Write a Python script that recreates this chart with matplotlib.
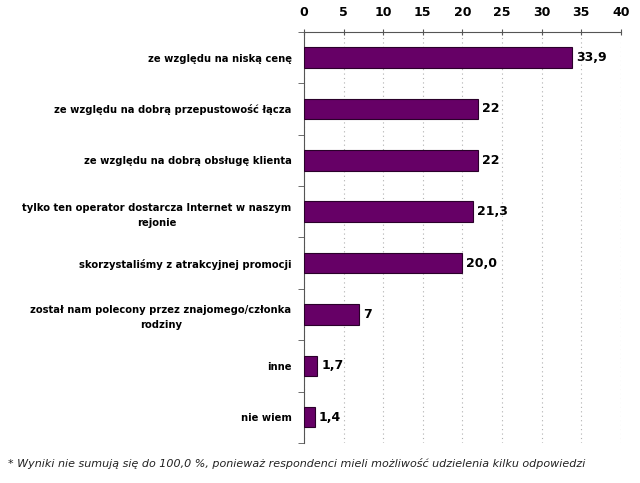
import numpy as np
import matplotlib.pyplot as plt

# dane z wykresu
kategorie = [
    "ze względu na niską cenę",
    "ze względu na dobrą przepustowość łącza",
    "ze względu na dobrą obsługę klienta",
    "tylko ten operator dostarcza Internet w naszym\nrejonie",
    "skorzystaliśmy z atrakcyjnej promocji",
    "został nam polecony przez znajomego/członka\nrodziny",
    "inne",
    "nie wiem",
]
wartosci = [33.9, 22, 22, 21.3, 20.0, 7, 1.7, 1.4]
etykiety = ["33,9", "22", "22", "21,3", "20,0", "7", "1,7", "1,4"]
przypis = "* Wyniki nie sumują się do 100,0 %, ponieważ respondenci mieli możliwość udzielenia kilku odpowiedzi"

fig = plt.figure(figsize=(6.4, 4.83), dpi=100)
ax = fig.add_axes([0.475, 0.083, 0.495, 0.851])

y = np.arange(len(kategorie))
ax.barh(y, wartosci, height=0.4, color="#660066", edgecolor="#2a002a", linewidth=0.8, zorder=3)

for yi, v, t in zip(y, wartosci, etykiety):
    ax.text(v + 0.5, yi, t, va="center", ha="left", fontsize=9, fontweight="bold", color="black")

ax.set_xlim(0, 40)
ax.set_ylim(len(kategorie) - 0.5, -0.5)
ax.xaxis.tick_top()
ax.set_xticks(np.arange(0, 41, 5))
ax.tick_params(axis="x", labelsize=9, length=4, direction="inout", pad=7, colors="#555555", labelcolor="black")
for lab in ax.get_xticklabels():
    lab.set_fontweight("bold")

ax.set_yticks(y)
ax.set_yticklabels(kategorie, fontsize=7.2, fontweight="bold", multialignment="center", linespacing=1.6)
ax.set_yticks(np.arange(-0.5, len(kategorie), 1), minor=True)
ax.tick_params(axis="y", which="major", length=0, pad=9)
ax.tick_params(axis="y", which="minor", length=4, color="#555555")

ax.grid(axis="x", color="#b0b0b0", linestyle=(0, (1, 3)), linewidth=0.8, zorder=0)
for s in ["right", "bottom"]:
    ax.spines[s].set_visible(False)
ax.spines["top"].set_color("#555555")
ax.spines["left"].set_color("#555555")

fig.text(0.012, 0.04, przypis, fontsize=8, style="italic", color="#222222", va="center")

fig.savefig("out.png", dpi=100)
